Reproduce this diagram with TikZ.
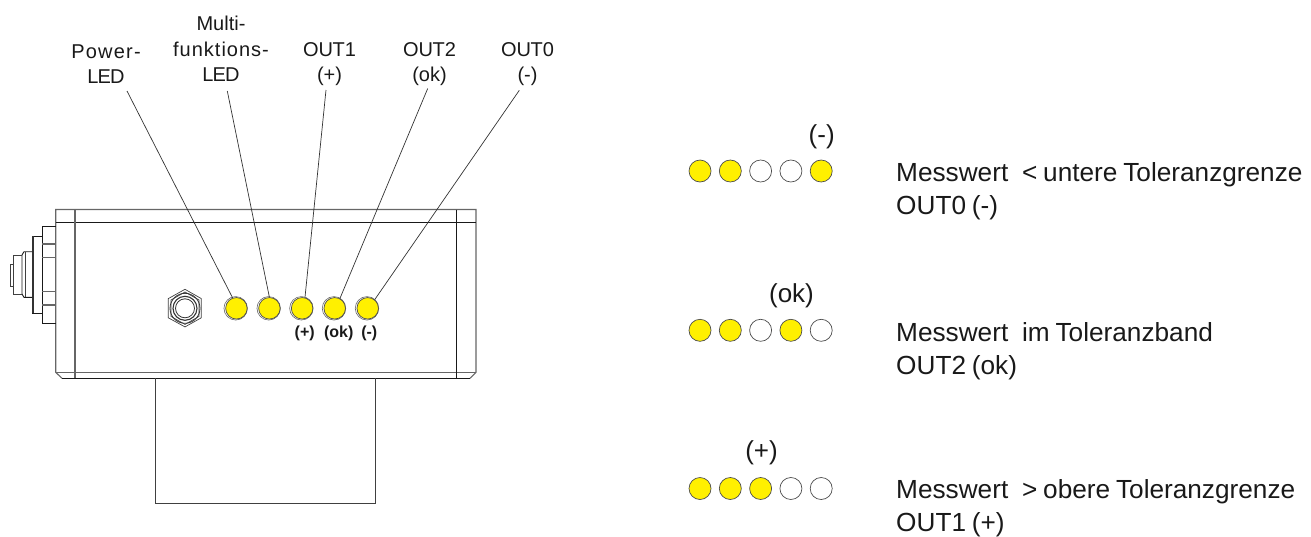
\documentclass[tikz,border=0pt]{standalone}
\usepackage{fontspec}
\setmainfont[WordSpace=0.8]{Liberation Sans}
\newcommand{\lsp}[2]{{\addfontfeature{LetterSpace=#1}#2}}
\begin{document}
\begin{tikzpicture}[x=1pt,y=-1pt,
  gline/.style={draw=black!60,line width=1.1pt},
  kline/.style={draw=black!90,line width=0.9pt},
  thin line/.style={draw=black!75,line width=0.7pt},
  led/.style={circle,draw=black!70,fill=ledy,line width=0.7pt,minimum size=21.5pt,inner sep=0pt},
  rowled/.style={circle,draw=black!70,fill=ledy,line width=0.7pt,minimum size=22pt,inner sep=0pt},
  rowoff/.style={circle,draw=black!70,fill=white,line width=0.7pt,minimum size=22pt,inner sep=0pt},
  halo/.style={circle,draw=black!60,fill=white,line width=0.6pt,minimum size=23.5pt,inner sep=0pt},
  leader/.style={draw=black!80,line width=0.7pt},
  lab/.style={font=\fontsize{20}{25.5}\selectfont,align=center,text=black!90,inner sep=0pt},
  big/.style={font=\fontsize{26.2}{33}\selectfont,align=left,text=black!90,inner sep=0pt,anchor=north west},
  sym/.style={font=\fontsize{26}{30}\selectfont,text=black!90,inner sep=0pt},
  small/.style={font=\fontsize{16}{18}\selectfont\bfseries,text=black!90,inner sep=0pt}]
\definecolor{ledy}{RGB}{255,240,0}
\useasboundingbox (0,0) rectangle (1311,536);
% housing
\draw[gline] (62,378.3) -- (55.7,372.3) -- (55.7,209.5) -- (476,209.5) -- (476,372.3) -- (470,378.3);
\draw[gline] (55.7,372.3) -- (476,372.3);
\draw[kline] (62,378.3) -- (470,378.3);
\draw[kline] (55.7,222.7) -- (476,222.7);
\draw[gline] (75,209.5) -- (75,378.3);
\draw[kline] (456.7,209.5) -- (456.7,378.3);
\draw[thin line] (155.5,378.3) -- (155.5,503) -- (375.7,503) -- (375.7,378.3);
% connector
\draw[kline] (55.7,226) -- (42.3,226) -- (42.3,323.3) -- (55.7,323.3);
\foreach \yy in {244,257.3,291.7,305} \draw[gline] (42.3,\yy) -- (55.7,\yy);
\draw[kline] (42.3,236) -- (32,236) -- (32,313.3) -- (42.3,313.3);
\draw[line width=1.4pt,black!80] (33,236) -- (33,313);
\draw[kline] (32,251.7) -- (24,251.7) -- (22,255) -- (22,294) -- (24,297.3) -- (32,297.3);
\draw[thin line] (25,252) -- (25,297);
\draw[thin line] (22,255) -- (13.5,255) -- (13.5,294) -- (22,294);
\draw[thin line] (13.5,264.5) -- (10.3,264.5) -- (10.3,286) -- (13.5,286);
% nut
\draw[thin line] (185,289.3) -- (201.3,298.6) -- (201.3,317.8) -- (185,326.9) -- (168.3,317.8) -- (168.3,298.6) -- cycle;
\draw[thin line] (185,292) -- (199,300) -- (199,316.4) -- (185,324.4) -- (171,316.4) -- (171,300) -- cycle;
\draw[line width=0.8pt,black!80] (185,308.3) circle (15);
\draw[line width=1.1pt,black!80] (185,308.3) circle (12);
\draw[line width=0.8pt,black!80] (185,308.3) circle (9.5);
% LEDs on device
\foreach \n/\xx in {a/236,b/269,c/301.7,d/334.3,e/367.3}{
  \node[halo] at (\xx-0.3,308.3) {};
  \node[led] (led\n) at (\xx+0.4,308.3) {};
}
\node[small] (tplus) at (304.7,333.3) {(+)};
\node[small] (tok) at (338.7,333.3) {(ok)};
\node[small] (tminus) at (369.3,333.3) {(-)};
% labels
\node[lab] (lpower) at (106,64) {\lsp{6}{Power-}\\\lsp{-4}{LED}};
\node[lab] (lmulti) at (221,49) {Multi-\\\lsp{5}{funktions-}\\\lsp{-4}{LED}};
\node[lab] (lout1) at (329.5,64) {\lsp{-1}{OUT1}\\(+)};
\node[lab] (lout2) at (429.5,64) {\lsp{-1}{OUT2}\\(ok)};
\node[lab] (lout0) at (527.5,64) {\lsp{-1}{OUT0}\\(-)};
\coordinate (ca) at (127,91);
\coordinate (cb) at (227.3,91);
\coordinate (cc) at (326,90);
\coordinate (cd) at (427.7,88.5);
\coordinate (ce) at (519.3,90.3);
\draw[leader] (ca) -- (leda.110);
\draw[leader] (cb) -- (ledb.90);
\draw[leader] (cc) -- (ledc.75);
\draw[leader] (cd) -- (ledd.62);
\draw[leader] (ce) -- (lede.51);
% status rows
\foreach \r/\yy/\st in {p/171/{rowled,rowled,rowoff,rowoff,rowled},q/330.3/{rowled,rowled,rowoff,rowled,rowoff},s/488.5/{rowled,rowled,rowled,rowoff,rowoff}}{
  \foreach \s [count=\i] in \st {
    \node[\s] (r\r\i) at ({700+(\i-1)*30.3},\yy) {};
  }
}
\node[sym] (sminus) at (821.7,137) {(-)};
\node[sym] (sok) at (791.5,295.5) {(ok)};
\node[sym] (splus) at (761.5,452.5) {(+)};
\node[big] (t1) at (896,162.5) {Messwert\hspace{8pt} < untere Toleranzgrenze\\OUT0 (-)};
\node[big] (t2) at (896,322.5) {Messwert\hspace{8pt} im Toleranzband\\OUT2 (ok)};
\node[big] (t3) at (896,479.7) {Messwert\hspace{8pt} > obere Toleranzgrenze\\OUT1 (+)};
\end{tikzpicture}
\end{document}
